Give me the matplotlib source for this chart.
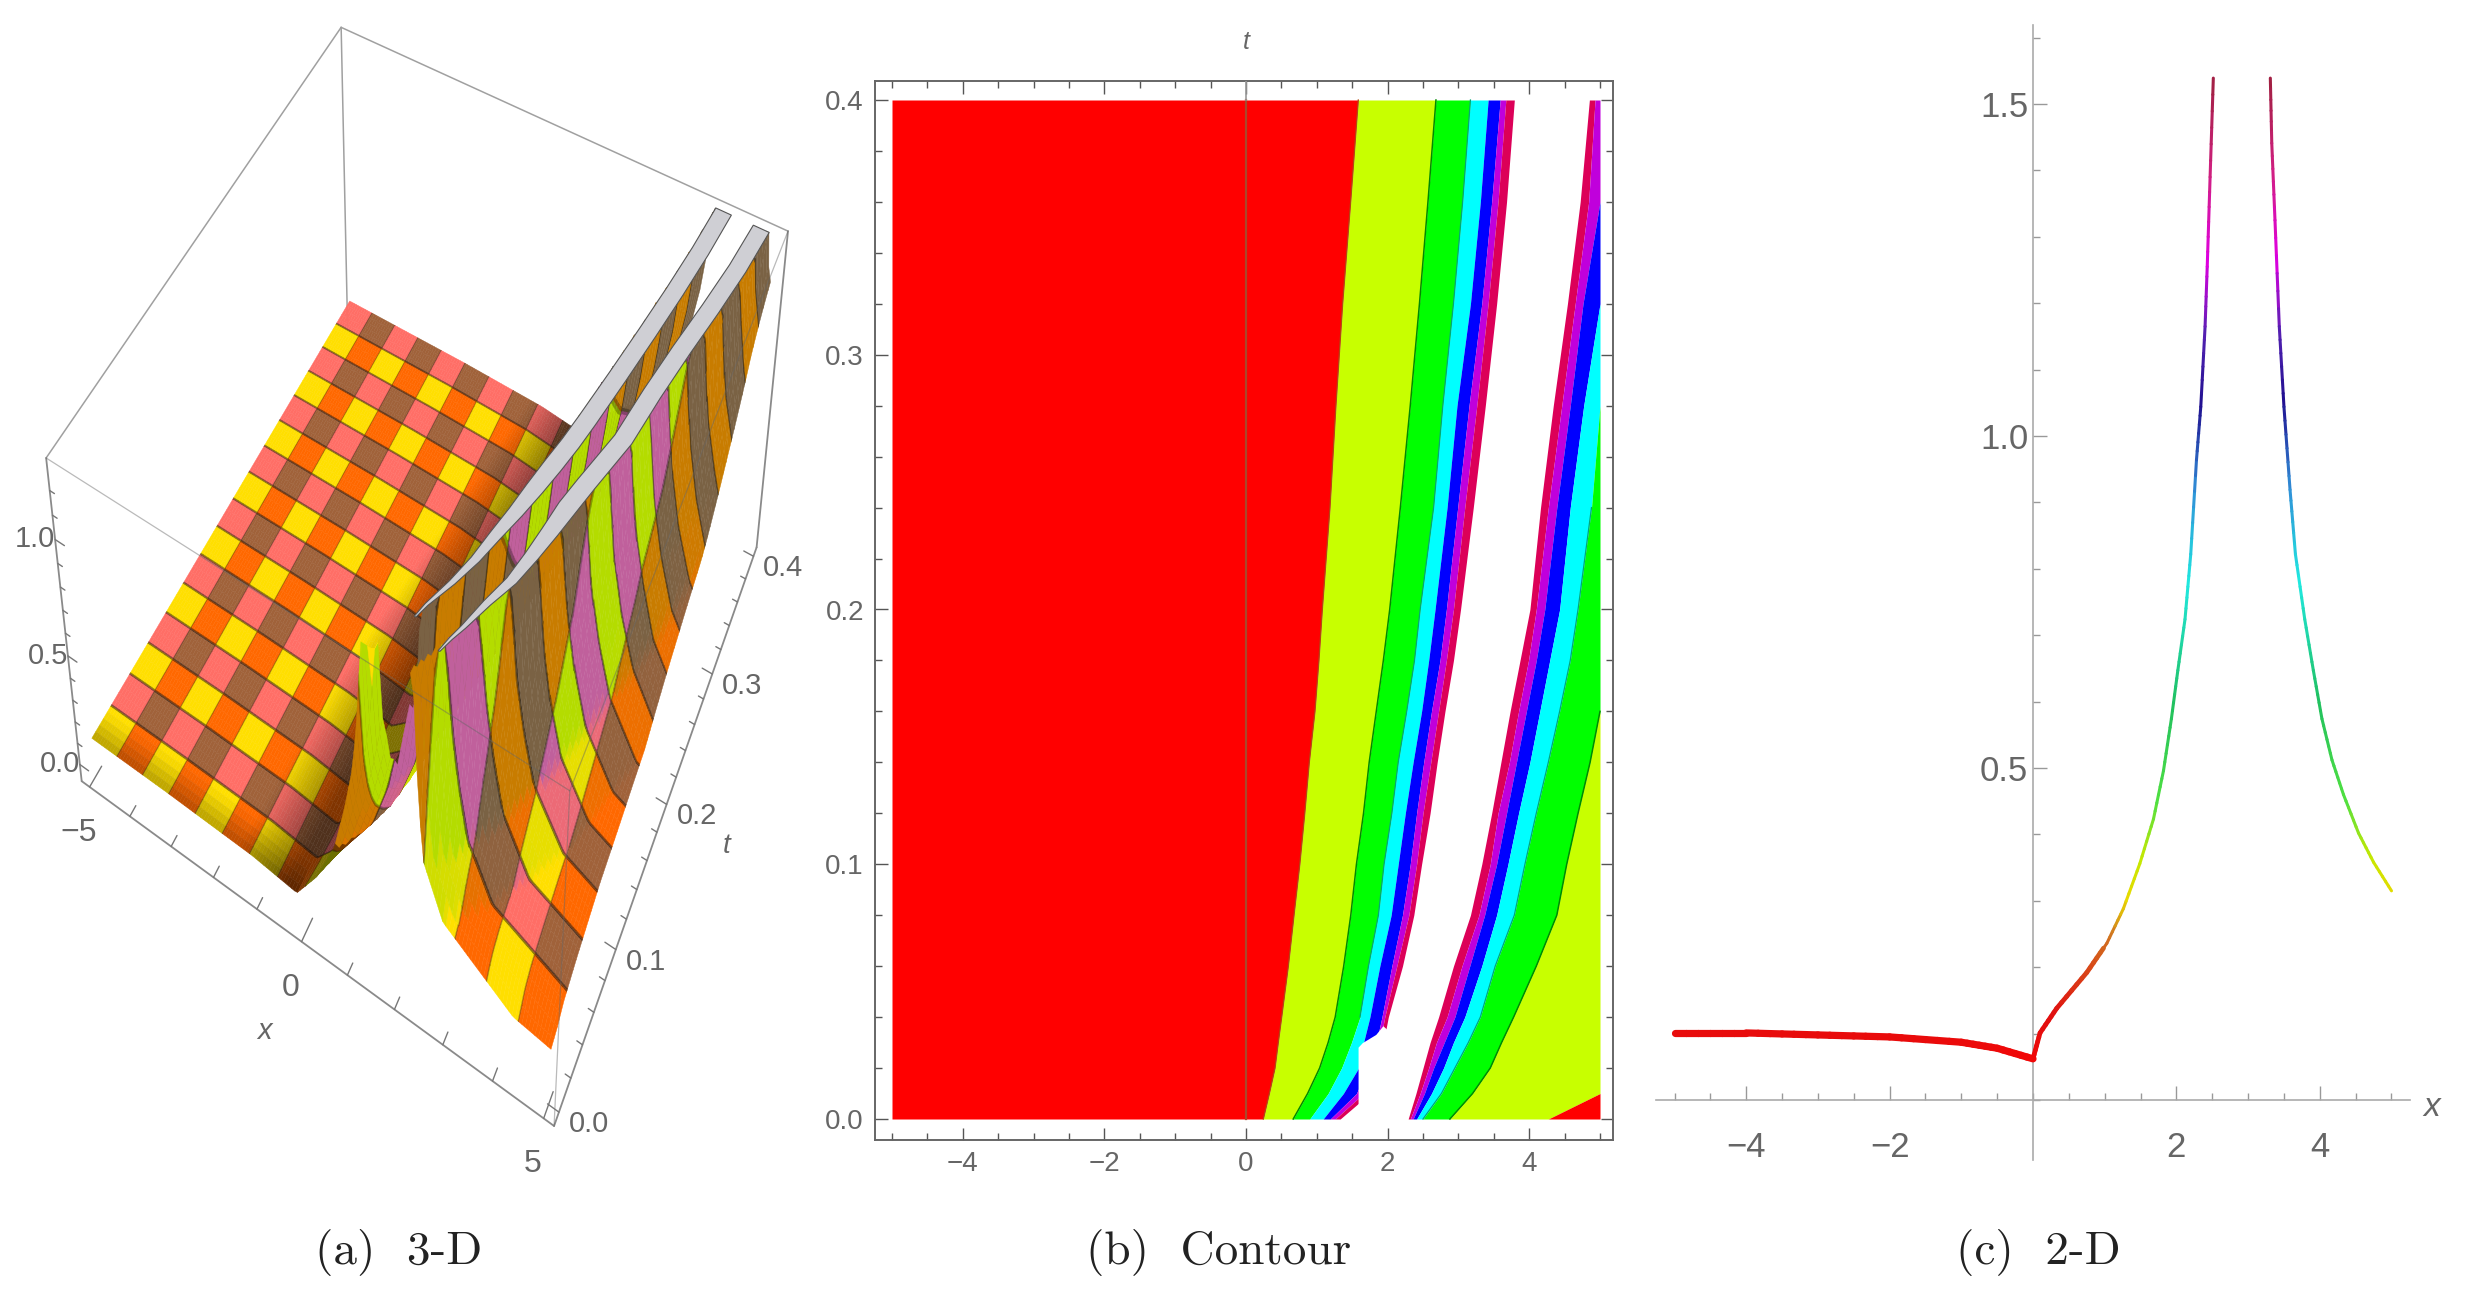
import numpy as np
import matplotlib
matplotlib.use("Agg")
import matplotlib.pyplot as plt
from matplotlib.collections import LineCollection, PolyCollection
from matplotlib.colors import LinearSegmentedColormap, to_rgb
from matplotlib.ticker import FixedLocator, FuncFormatter, MultipleLocator

# contour boundaries of panel (b), x position of each level at each t
t_rows = [0, .01, .02, .03, .04, .06, .08, .10, .12, .14, .16, .18, .20, .24, .28, .32, .36, .40]
b1 = [.245, .33, .41, .456, .504, .598, .678, .76, .83, .894, .974, 1.03, 1.078, 1.186, 1.27, 1.365, 1.478, 1.586]
b2 = [.667, .87, 1.04, 1.16, 1.26, 1.38, 1.48, 1.56, 1.66, 1.74, 1.84, 1.94, 2.03, 2.18, 2.32, 2.45, 2.57, 2.683]
b3 = [.90, 1.16, 1.35, 1.49, 1.61, 1.73, 1.87, 1.95, 2.06, 2.15, 2.27, 2.38, 2.46, 2.65, 2.78, 2.93, 3.06, 3.17]
b4 = [1.09, 1.375, 1.59, 1.66, 1.75, 1.89, 2.05, 2.15, 2.25, 2.36, 2.48, 2.58, 2.67, 2.84, 2.98, 3.17, 3.31, 3.42]
b5 = [1.19, 1.56, 1.72, 1.84, 1.92, 2.06, 2.21, 2.32, 2.41, 2.51, 2.62, 2.74, 2.83, 2.99, 3.15, 3.33, 3.47, 3.59]
b6 = [1.26, 1.66, 1.82, 1.89, 1.96, 2.13, 2.30, 2.41, 2.50, 2.61, 2.72, 2.83, 2.93, 3.09, 3.26, 3.42, 3.56, 3.67]
b7 = [1.33, 1.75, 1.88, 1.94, 2.01, 2.21, 2.37, 2.48, 2.60, 2.70, 2.81, 2.93, 3.03, 3.21, 3.38, 3.54, 3.68, 3.79]
r1 = [2.29, 2.40, 2.50, 2.60, 2.72, 2.93, 3.17, 3.33, 3.47, 3.60, 3.73, 3.87, 4.01, 4.16, 4.34, 4.54, 4.72, 4.85]
r2 = [2.32, 2.46, 2.58, 2.69, 2.84, 3.05, 3.29, 3.45, 3.56, 3.72, 3.85, 3.99, 4.10, 4.27, 4.46, 4.65, 4.84, 4.93]
r3 = [2.36, 2.52, 2.65, 2.80, 2.95, 3.16, 3.37, 3.54, 3.68, 3.82, 3.96, 4.10, 4.22, 4.39, 4.58, 4.76, 5.00, 5.15]
r4 = [2.41, 2.62, 2.79, 2.93, 3.09, 3.33, 3.54, 3.70, 3.85, 4.01, 4.15, 4.29, 4.43, 4.58, 4.77, 5.00, 5.20, 5.35]
r5 = [2.50, 2.76, 2.95, 3.14, 3.31, 3.52, 3.79, 3.94, 4.10, 4.27, 4.43, 4.58, 4.69, 4.88, 5.05, 5.25, 5.40, 5.55]
r6 = [2.88, 3.20, 3.45, 3.61, 3.78, 4.10, 4.39, 4.53, 4.69, 4.86, 5.00, 5.13, 5.25, 5.45, 5.65, 5.85, 6.00, 6.15]
r7 = [4.27, 5.00, 5.40, 5.60, 5.80, 6.10, 6.40, 6.55, 6.70, 6.85, 7.00, 7.15, 7.30, 7.50, 7.70, 7.90, 8.05, 8.20]
kink_x = [-.2, -.18, -.15, -.13, -.1, -.07, -.03, .01, .05, .12, .2, .27, .35, .5, .65, .8, .95, 1.1]
levels = [.2, .4, .6, .8, 1.0, 1.2, 1.4]
# white bite out of the contour near t=0
notch_x = [1.59, 1.59, 1.65, 1.84, 1.94, 2.2, 2.25]
notch_t = [0, .028, .0298, .033, .0364, .03, 0]

# panel (c), t=0.1 slice
left_x = [-5, -4, -3, -2, -1, -.5, 0, .098, .33, .75, 1.03, 1.26, 1.49, 1.68, 1.82, 1.93, 2.02,
          2.12, 2.20, 2.28, 2.34, 2.40, 2.43, 2.47, 2.515]
left_u = [.101, .101, .098, .095, .087, .078, .062, .101, .138, .192, .236, .288, .356, .423, .496,
          .574, .647, .724, .822, .964, 1.044, 1.165, 1.255, 1.39, 1.539]
right_x = [3.31, 3.33, 3.375, 3.435, 3.50, 3.585, 3.66, 3.79, 3.91, 4.03, 4.17, 4.33, 4.54, 4.75, 5.0]
right_u = [1.539, 1.441, 1.325, 1.165, 1.044, .919, .822, .724, .647, .574, .512, .46, .402, .358, .315]

# colours
band_colors = ['#ff0000', '#c8ff00', '#00ff00', '#00ffff', '#0000ff', '#c000dc', '#dc0058']
cell_flat = ['#ffdf00', '#ff6e66', '#ff6800', '#a0623a']
cell_wall = ['#b4dc00', '#c0609c', '#c87c00', '#7a6244']
hue_u = [0, .13, .2, .25, .3, .36, .45, .6, .78, .92, 1.05, 1.15, 1.27, 1.4, 1.54]
hue_colors = ['#ff0000', '#e01010', '#d84a18', '#d07820', '#e8d800', '#c8e800', '#50e040', '#20c060',
              '#20e8e0', '#3090d8', '#201090', '#5020b0', '#e000e0', '#d02080', '#a02040']

W, H = 2466, 1305
tick_font = 'Liberation Sans'
gray = '#666666'

fig = plt.figure(figsize=(W / 100, H / 100), dpi=100)
page = fig.add_axes([0, 0, 1, 1])
page.set_xlim(0, W)
page.set_ylim(H, 0)
page.axis('off')


def px_axes(x0, y0, x1, y1):
    return fig.add_axes([x0 / W, 1 - y1 / H, (x1 - x0) / W, (y1 - y0) / H])


# ---- panel (a): surface seen through a projective map fitted to the box corners
box_x = (-5.2, 5.2)
box_t = (-.008, .408)
box_z = (-.08, 1.33)
cube = [(0, 0, 0), (1, 0, 0), (1, 1, 0), (0, 1, 0), (0, 0, 1), (1, 0, 1), (1, 1, 1), (0, 1, 1)]
corner_px = [(77, 777), (556, 1127), (760, 540), (347, 335), (51, 458), (568, 795), (784, 235), (342, 21)]
rows = []
rhs = []
for (a, b, c), (u, v) in zip(cube, corner_px):
    rows.append([a, b, c, 1, 0, 0, 0, 0, -u * a, -u * b, -u * c])
    rows.append([0, 0, 0, 0, a, b, c, 1, -v * a, -v * b, -v * c])
    rhs += [u, v]
h = np.linalg.lstsq(np.array(rows, float), np.array(rhs, float), rcond=None)[0]


def project(x, t, z):
    a = (np.asarray(x, float) - box_x[0]) / (box_x[1] - box_x[0])
    b = (np.asarray(t, float) - box_t[0]) / (box_t[1] - box_t[0])
    c = (np.asarray(z, float) - box_z[0]) / (box_z[1] - box_z[0])
    w = h[8] * a + h[9] * b + h[10] * c + 1
    return (h[0] * a + h[1] * b + h[2] * c + h[3]) / w, (h[4] * a + h[5] * b + h[6] * c + h[7]) / w, w


def edge(p, q, **kw):
    xs = [p[0], q[0]]
    ts = [p[1], q[1]]
    zs = [p[2], q[2]]
    u, v, _ = project(xs, ts, zs)
    page.plot(u, v, solid_capstyle='round', **kw)


xa, xb = box_x
ta, tb = box_t
za, zb = box_z
for p, q in [((xa, tb, zb), (xa, tb, za)), ((xa, tb, zb), (xa, ta, zb)), ((xa, tb, zb), (xb, tb, zb))]:
    edge(p, q, color='#a0a0a0', lw=1.1, zorder=1)

# surface mesh, 16 x 16 checker cells with dark strips on the mesh lines
mesh_x = np.linspace(-5, 5, 17)
mesh_t = np.linspace(0, .4, 17)
dx_line = .012
dt_line = .0009
sx = np.unique(np.concatenate([np.linspace(-5, 5, 16 * 10 + 1), mesh_x[1:-1] - dx_line, mesh_x[1:-1] + dx_line]))
st = np.unique(np.concatenate([np.linspace(0, .4, 16 * 5 + 1), mesh_t[1:-1] - dt_line, mesh_t[1:-1] + dt_line]))

bounds = [np.interp(st, t_rows, b) for b in (b1, b2, b3, b4, b5, b6, b7)]
rbounds = [np.interp(st, t_rows, r) for r in (r1, r2, r3, r4, r5, r6, r7)]
kink = np.interp(st, t_rows, kink_x)
Z = np.zeros((len(st), len(sx)))
for n in range(len(st)):
    bp = [-5.01, kink[n] - 3, kink[n] - 1, kink[n]] + [b[n] for b in bounds]
    bp += [bounds[6][n] + .01, rbounds[0][n] - .01] + [r[n] for r in rbounds] + [rbounds[6][n] + 3]
    uu = [.101, .098, .087, .062] + levels + [1.6, 1.6] + levels[::-1] + [.1]
    Z[n] = np.interp(sx, bp, uu)

z_top = 1.33
Zc = np.minimum(Z, z_top)
U, V, D = project(*np.broadcast_arrays(sx[None, :], st[:, None], Zc))
polys = []
cols = []
depth = []
flat = np.array([to_rgb(c) for c in cell_flat])
wall = np.array([to_rgb(c) for c in cell_wall])
gx = np.gradient(Z, sx, axis=1)
ridge = (np.interp(st, t_rows, b7) + np.interp(st, t_rows, r1)) / 2
notch_top = np.interp(sx, notch_x[1:5], notch_t[1:5], left=.028, right=0)
for j in range(len(st) - 1):
    tm = (st[j] + st[j + 1]) / 2
    for i in range(len(sx) - 1):
        xm = (sx[i] + sx[i + 1]) / 2
        corners = Z[j:j + 2, i:i + 2]
        if corners.min() > z_top:
            continue
        if 1.59 < xm < rbounds[0][j] and tm < notch_top[i]:
            continue
        ci = min(int((xm + 5) / .625), 15)
        cj = min(int(tm / .025), 15)
        k = (ci % 2) * 2 + (cj % 2)
        s = np.clip((abs(gx[j, i]) - .15) / .6, 0, 1)
        c = flat[k] * (1 - s) + wall[k] * s
        on_left = xm < ridge[j]
        zm = corners.mean()
        if on_left and zm < .38:
            f = np.interp(xm - kink[j], [-1.3, -.2, .4], [1, .5, .5])
            c = c * f
        if on_left and tm < .02 and xm < kink[j]:
            c = c * (.72 + .28 * tm / .02)
        if abs(tm - mesh_t[np.argmin(abs(mesh_t - tm))]) < dt_line:
            c = c * .55
        elif abs(xm - mesh_x[np.argmin(abs(mesh_x - xm))]) < dx_line:
            c = c * .7
        polys.append([(U[j, i], V[j, i]), (U[j, i + 1], V[j, i + 1]),
                      (U[j + 1, i + 1], V[j + 1, i + 1]), (U[j + 1, i], V[j + 1, i])])
        cols.append(c)
        depth.append(D[j:j + 2, i:i + 2].mean())
order = np.argsort(depth)[::-1]
page.add_collection(PolyCollection([polys[n] for n in order], facecolors=[cols[n] for n in order],
                                   edgecolors=[cols[n] for n in order], linewidths=.3, zorder=2))

# flat grey caps where the surface leaves the box
cap_w = .30
tr = np.array(t_rows)
for lo, hi, tmin, side in [(np.array(b7) - .03, np.array(b7), .03, 1), (np.array(r1) + .03, np.array(r1), .02, -1)]:
    keep = tr >= tmin
    tt = tr[keep]
    inner = hi[keep] + side * np.minimum(cap_w, (tt - tt[0]) * 2.5)
    u1, v1, _ = project(lo[keep], tt, z_top + 0 * tt)
    u2, v2, _ = project(inner, tt, z_top + 0 * tt)
    page.fill(np.r_[u1, u2[::-1]], np.r_[v1, v2[::-1]], facecolor='#cfcfd4', edgecolor='#555555', lw=.8, zorder=3)

for p, q in [((xa, ta, za), (xb, ta, za)), ((xb, ta, za), (xb, tb, za)), ((xa, ta, za), (xa, ta, zb)),
             ((xb, tb, za), (xb, tb, zb))]:
    edge(p, q, color='#8a8a8a', lw=1.3, zorder=4)
for p, q in [((xa, ta, zb), (xb, ta, zb)), ((xb, ta, zb), (xb, tb, zb)), ((xb, ta, za), (xb, ta, zb))]:
    edge(p, q, color='#666666', lw=.9, alpha=.45, zorder=4)

for v in np.arange(-5, 5.01, 1):
    size = .12 if v % 5 == 0 else .06
    edge((v, ta, za), (v, ta + size * .13, za), color='#777777', lw=1, zorder=4)
for v in np.arange(0, .401, .02):
    size = .22 if round(v * 100) % 10 == 0 else .11
    edge((xb, v, za), (xb - size, v, za), color='#777777', lw=1, zorder=4)
for v in np.arange(0, 1.21, .1):
    size = .22 if round(v * 10) % 5 == 0 else .11
    edge((xa, ta, v), (xa + size, ta, v), color='#777777', lw=1, zorder=4)


def page_text(x, y, s, **kw):
    kw.setdefault('family', tick_font)
    kw.setdefault('color', gray)
    kw.setdefault('fontsize', 23)
    page.text(x, y, s, ha='center', va='center', zorder=5, **kw)


for v, label in [(-5, '\u22125'), (0, '0'), (5, '5')]:
    u, w, _ = project(v, ta, za)
    page_text(u - 11, w + 46, label)
for v, label in [(0, '0.0'), (.1, '0.1'), (.2, '0.2'), (.3, '0.3'), (.4, '0.4')]:
    u, w, _ = project(xb, v, za)
    page_text(u + 30, w + 12, label, fontsize=21)
for v, label in [(0, '0.0'), (.5, '0.5'), (1, '1.0')]:
    u, w, _ = project(xa, ta, v)
    page_text(u - 20, w, label, fontsize=21)
page_text(264, 1031, 'x', style='italic', fontsize=21)
page_text(727, 846, 't', style='italic', fontsize=20)

# ---- panel (b): contour bands
axb = px_axes(875, 81, 1613, 1140)
axb.set_xlim((875 - 1246) / 70.8, (1613 - 1246) / 70.8)
axb.set_ylim(-21 / 2547.5, 1038 / 2547.5)
left_edges = [[-5] * len(t_rows), b1, b2, b3, b4, b5, b6, b7]
for n, c in enumerate(band_colors):
    axb.fill_betweenx(t_rows, left_edges[n], left_edges[n + 1], color=c, lw=0)
right_edges = [r1, r2, r3, r4, r5, r6, r7, [5] * len(t_rows)]
right_colors = band_colors[:0:-1] + [band_colors[0]]
for n, c in enumerate(right_colors):
    axb.fill_betweenx(t_rows, np.minimum(right_edges[n], 5), np.minimum(right_edges[n + 1], 5), color=c, lw=0)
axb.fill(notch_x, notch_t, color='white', lw=0, zorder=2)
axb.plot(b1, t_rows, color='#b04a10', lw=.9, zorder=3)
axb.plot(b2, t_rows, color='#008a00', lw=1.1, zorder=3)
axb.plot(b3[4:], t_rows[4:], color='#00a878', lw=.9, zorder=3)
axb.plot(r5[:14], t_rows[:14], color='#00a878', lw=.9, zorder=3)
axb.plot(r6[:11], t_rows[:11], color='#008a00', lw=1.1, zorder=3)
axb.plot([0, 0], [0, .4], color='#a8482c', lw=1.6, zorder=3)
axb.plot([0, 0], [.4, 1], color='#999999', lw=1.2, zorder=3)
axb.xaxis.set_major_locator(MultipleLocator(2))
axb.xaxis.set_minor_locator(MultipleLocator(.5))
axb.yaxis.set_major_locator(MultipleLocator(.1))
axb.yaxis.set_minor_locator(MultipleLocator(.02))
axb.tick_params(which='both', direction='in', top=True, right=True, color='#555555', width=1)
axb.tick_params(which='major', length=9, labelsize=20, labelcolor=gray, pad=8)
axb.tick_params(which='minor', length=5)
axb.xaxis.set_major_formatter(FuncFormatter(lambda v, p: ('%d' % v).replace('-', '\u2212')))
axb.yaxis.set_major_formatter(FuncFormatter(lambda v, p: '%.1f' % v))
for lab in axb.get_xticklabels() + axb.get_yticklabels():
    lab.set_family(tick_font)
for sp in axb.spines.values():
    sp.set_color('#666666')
    sp.set_linewidth(1.4)
page_text(1246, 42, 't', style='italic', fontsize=18)

# ---- panel (c): slice, coloured by height
axc = px_axes(1656, 25, 2410, 1160)
axc.set_xlim((1656 - 2033) / 71.7, (2410 - 2033) / 71.7)
axc.set_ylim((1100 - 1160) / 664, (1100 - 25) / 664)
axc.patch.set_alpha(0)
cmap = LinearSegmentedColormap.from_list('height', [(u / 1.54, c) for u, c in zip(hue_u, hue_colors)])
for xs, us in [(left_x, left_u), (right_x, right_u)]:
    pts = np.column_stack([xs, us])
    # cut each straight piece so the colour runs smoothly along it
    frac = np.linspace(0, 1, 7)[:, None, None]
    fine = (pts[:-1] + (pts[1:] - pts[:-1]) * frac).transpose(1, 0, 2).reshape(-1, 2)
    segs = np.stack([fine[:-1], fine[1:]], axis=1)
    mid_u = (fine[:-1, 1] + fine[1:, 1]) / 2
    mid_x = (fine[:-1, 0] + fine[1:, 0]) / 2
    widths = np.where(mid_x < 0, 5.2, np.where(mid_x < 1, 3.4, 2.2))
    axc.add_collection(LineCollection(segs, colors=cmap(mid_u / 1.54), linewidths=widths, capstyle='round', zorder=3))
for side in ('top', 'right'):
    axc.spines[side].set_visible(False)
axc.spines['left'].set_position(('data', 0))
axc.spines['bottom'].set_position(('data', 0))
for side in ('left', 'bottom'):
    axc.spines[side].set_color('#aaaaaa')
    axc.spines[side].set_linewidth(1.2)
axc.xaxis.set_major_locator(FixedLocator([-4, -2, 2, 4]))
axc.xaxis.set_minor_locator(MultipleLocator(.5))
axc.yaxis.set_major_locator(FixedLocator([.5, 1, 1.5]))
axc.yaxis.set_minor_locator(MultipleLocator(.1))
axc.tick_params(which='both', direction='in', color='#999999', width=1)
axc.tick_params(which='major', length=10, labelsize=25, labelcolor=gray)
axc.tick_params(which='minor', length=5)
axc.tick_params(axis='x', which='major', pad=22)
axc.xaxis.set_major_formatter(FuncFormatter(lambda v, p: ('%d' % v).replace('-', '\u2212')))
axc.yaxis.set_major_formatter(FuncFormatter(lambda v, p: '%.1f' % v))
for lab in axc.get_xticklabels() + axc.get_yticklabels():
    lab.set_family(tick_font)
page_text(2432, 1107, 'x', style='italic', fontsize=24)

# captions
for x, s in [(399, '(a)  3-D'), (1219, '(b)  Contour'), (2038, '(c)  2-D')]:
    page.text(x, 1252, s, ha='center', va='center', family='cmr10', fontsize=34, color='#222222')

fig.savefig('out.png', dpi=100)
